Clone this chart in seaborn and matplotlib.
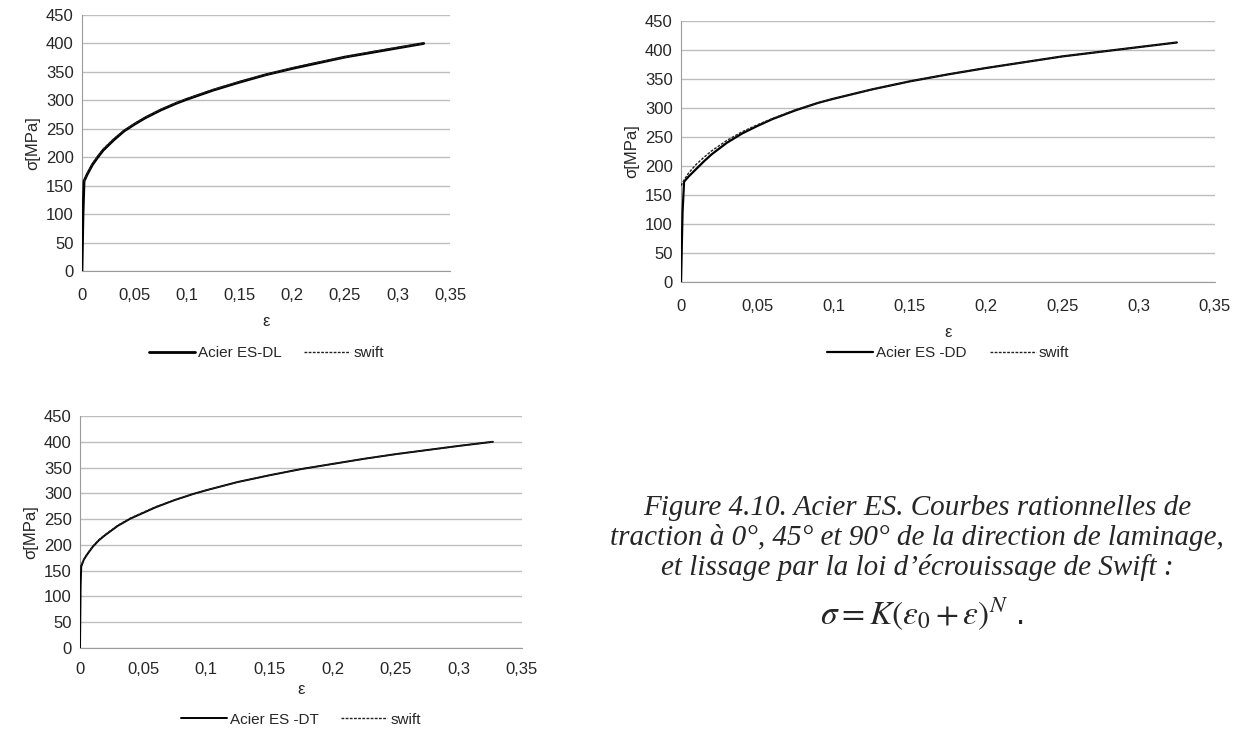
import matplotlib.pyplot as plt
import numpy as np
import pandas as pd
import seaborn as sns

# strain / stress (DL = 0°, DD = 45°, DT = 90°)
eps_dl = [0, 0.001, 0.002, 0.005, 0.01, 0.015, 0.02, 0.03, 0.04, 0.05, 0.06, 0.075, 0.09, 0.1,
          0.125, 0.15, 0.175, 0.2, 0.225, 0.25, 0.275, 0.3, 0.325]
sig_dl = [0, 100, 158, 170, 187, 200, 212, 230, 246, 258, 269, 283, 295, 302,
          318, 332, 345, 356, 366, 376, 384, 392, 400]
eps_dl_swift = [0.002, 0.005, 0.01, 0.015, 0.02, 0.03, 0.04, 0.05, 0.06, 0.075, 0.09, 0.1,
                0.125, 0.15, 0.175, 0.2, 0.225, 0.25, 0.275, 0.3, 0.325]
sig_dl_swift = [157, 171, 189, 202, 214, 232, 247, 259, 270, 284, 296, 303,
                319, 333, 345, 357, 367, 376, 385, 393, 400]

eps_dd = [0, 0.001, 0.002, 0.005, 0.01, 0.015, 0.02, 0.03, 0.04, 0.05, 0.06, 0.075, 0.09, 0.1,
          0.125, 0.15, 0.175, 0.2, 0.225, 0.25, 0.275, 0.3, 0.325]
sig_dd = [0, 120, 173, 182, 195, 208, 220, 240, 256, 269, 281, 296, 309, 316,
          332, 346, 358, 369, 379, 389, 397, 405, 413]
eps_dd_swift = [0, 0.002, 0.005, 0.01, 0.015, 0.02, 0.03, 0.04, 0.05, 0.06, 0.075, 0.09, 0.1,
                0.125, 0.15, 0.175, 0.2, 0.225, 0.25, 0.275, 0.3, 0.325]
sig_dd_swift = [166, 176, 188, 203, 215, 226, 244, 259, 271, 282, 297, 309, 316,
                332, 346, 358, 369, 379, 389, 397, 405, 413]

eps_dt = [0, 0.0005, 0.001, 0.003, 0.005, 0.01, 0.015, 0.02, 0.03, 0.04, 0.05, 0.06, 0.075, 0.09, 0.1,
          0.125, 0.15, 0.175, 0.2, 0.225, 0.25, 0.275, 0.3, 0.327]
sig_dt = [0, 120, 158, 171, 179, 196, 209, 219, 237, 251, 262, 273, 287, 299, 306,
          322, 335, 347, 357, 367, 376, 384, 392, 400]
eps_dt_swift = [0, 0.003, 0.005, 0.01, 0.015, 0.02, 0.03, 0.04, 0.05, 0.06, 0.075, 0.09, 0.1,
                0.125, 0.15, 0.175, 0.2, 0.225, 0.25, 0.275, 0.3, 0.327]
sig_dt_swift = [156, 172, 180, 197, 210, 220, 238, 252, 263, 274, 287, 299, 306,
                322, 335, 347, 357, 367, 376, 384, 392, 400]

x_ticks = [0, 0.05, 0.1, 0.15, 0.2, 0.25, 0.3, 0.35]
x_ticklabels = ['0', '0,05', '0,1', '0,15', '0,2', '0,25', '0,3', '0,35']
y_ticks = [0, 50, 100, 150, 200, 250, 300, 350, 400, 450]

# name, exp, swift, axes rect, line width, legend anchor (figure fraction), tick pad, x-label pad
panels = [
    ("Acier ES-DL", eps_dl, sig_dl, eps_dl_swift, sig_dl_swift,
     [0.0662, 0.6313, 0.2973, 0.3483], 2.0, (0.215, 0.500), 8, 8),
    ("Acier ES -DD", eps_dd, sig_dd, eps_dd_swift, sig_dd_swift,
     [0.5501, 0.6163, 0.4313, 0.3551], 1.6, (0.766, 0.500), 8, 8),
    ("Acier ES -DT", eps_dt, sig_dt, eps_dt_swift, sig_dt_swift,
     [0.0646, 0.1184, 0.3570, 0.3156], 1.4, (0.243, 0.001), 6, 4),
]

sns.set_style("white")
plt.rcParams['font.family'] = ['Liberation Sans', 'DejaVu Sans']
plt.rcParams['mathtext.fontset'] = 'stix'

fig = plt.figure(figsize=(12.38, 7.35), dpi=100)

for name, ex, sx, ew, sw, rect, lw, leg_xy, tpad, xpad in panels:
    ax = fig.add_axes(rect)
    df_exp = pd.DataFrame({'eps': ex, 'sig': sx})
    df_sw = pd.DataFrame({'eps': ew, 'sig': sw})
    sns.lineplot(data=df_exp, x='eps', y='sig', ax=ax, color='black', lw=lw,
                 sort=False, label=name, zorder=3)
    sns.lineplot(data=df_sw, x='eps', y='sig', ax=ax, color='#222222', lw=1.0,
                 sort=False, label='swift', zorder=4)
    ax.lines[-1].set_dashes([2, 1])
    ax.set_xlim(0, 0.35)
    ax.set_ylim(0, 450)
    ax.set_xticks(x_ticks)
    ax.set_xticklabels(x_ticklabels)
    ax.set_yticks(y_ticks)
    ax.yaxis.grid(True, color='#bdbdbd', lw=1)
    ax.xaxis.grid(False)
    ax.set_axisbelow(True)
    for s in ['top', 'right']:
        ax.spines[s].set_visible(False)
    for s in ['left', 'bottom']:
        ax.spines[s].set_color('#9a9a9a')
    ax.tick_params(axis='x', direction='out', length=4, color='#9a9a9a', labelsize=12, pad=tpad)
    ax.tick_params(axis='y', length=0, labelsize=12, pad=6)
    ax.set_xlabel('ε', fontsize=12, labelpad=xpad)
    ax.set_ylabel('σ[MPa]', fontsize=12, labelpad=4)
    handles, labels = ax.get_legend_handles_labels()
    handles[1].set_dashes([2, 1])
    ax.legend(handles, labels, loc='lower center', bbox_to_anchor=leg_xy,
              bbox_transform=fig.transFigure, ncol=2, frameon=False,
              fontsize=11, handlelength=3.0, columnspacing=1.5, handletextpad=0.2,
              borderpad=0.0)

caption = ("Figure 4.10. Acier ES. Courbes rationnelles de\n"
           "traction à 0°, 45° et 90° de la direction de laminage,\n"
           "et lissage par la loi d’écrouissage de Swift :")
fig.text(0.741, 0.326, caption, ha='center', va='top', fontsize=21,
         style='italic', family='Liberation Serif', linespacing=1.14)
fig.text(0.745, 0.165, r'$\sigma = K\left(\varepsilon_0 + \varepsilon\right)^N$ .',
         ha='center', va='center', fontsize=24)

fig.savefig('out.png', dpi=100)
